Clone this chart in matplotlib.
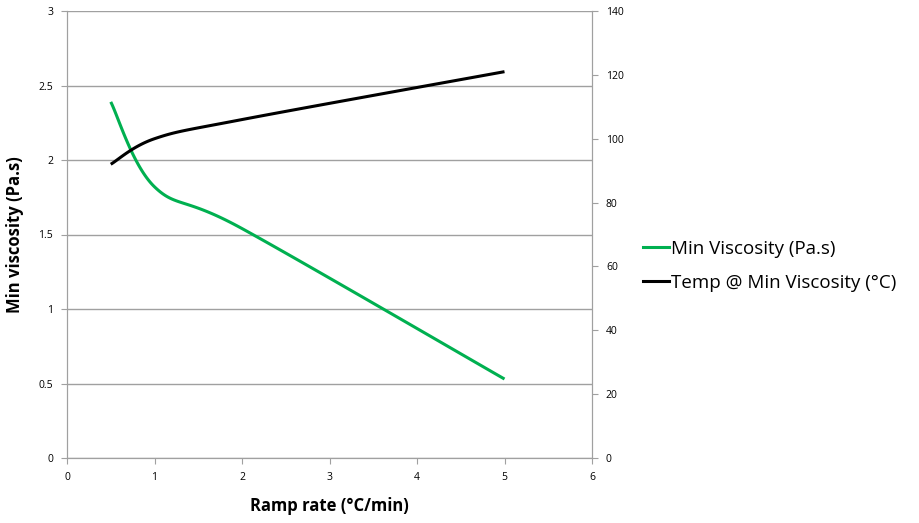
import numpy as np
import matplotlib
matplotlib.use("Agg")
import matplotlib.pyplot as plt
from matplotlib.lines import Line2D

ramp_rate = [0.5, 1, 2, 5]
min_visc = [2.39, 1.82, 1.54, 0.53]
temp_min_visc = [92, 100, 106, 121]

GREEN = "#00b050"
GRID = "#a0a0a0"

plt.rcParams["font.family"] = ["Open Sans", "DejaVu Sans"]


def smooth(xs, ys, n=40):
    # Excel-style smoothed line: cubic Bezier with Catmull-Rom control points
    xs = np.asarray(xs, float)
    ys = np.asarray(ys, float)
    px = np.concatenate([[xs[0]], xs, [xs[-1]]])
    py = np.concatenate([[ys[0]], ys, [ys[-1]]])
    out_x, out_y = [], []
    t = np.linspace(0, 1, n)
    for i in range(1, len(px) - 2):
        p0 = np.array([px[i], py[i]])
        p3 = np.array([px[i + 1], py[i + 1]])
        c1 = p0 + (np.array([px[i + 1], py[i + 1]]) - np.array([px[i - 1], py[i - 1]])) / 6
        c2 = p3 - (np.array([px[i + 2], py[i + 2]]) - np.array([px[i], py[i]])) / 6
        b = ((1 - t) ** 3)[:, None] * p0 + (3 * (1 - t) ** 2 * t)[:, None] * c1 \
            + (3 * (1 - t) * t ** 2)[:, None] * c2 + (t ** 3)[:, None] * p3
        out_x.extend(b[:, 0])
        out_y.extend(b[:, 1])
    return out_x, out_y


fig = plt.figure(figsize=(9.19, 5.23), dpi=100)
ax = fig.add_axes([67 / 919, 65 / 523, 525 / 919, 447 / 523])
ax2 = ax.twinx()

sx, sy = smooth(ramp_rate, min_visc)
ax.plot(sx, sy, color=GREEN, lw=2.2, solid_capstyle="butt")
tx, ty = smooth(ramp_rate, temp_min_visc)
ax2.plot(tx, ty, color="black", lw=2.2, solid_capstyle="butt")

ax.set_xlim(0, 6)
ax.set_ylim(0, 3)
ax2.set_ylim(0, 140)
ax.set_xticks(range(0, 7))
ax.set_yticks(np.arange(0, 3.01, 0.5))
ax.set_yticklabels(["0", "0.5", "1", "1.5", "2", "2.5", "3"])
ax2.set_yticks(range(0, 141, 20))

ax.yaxis.grid(True, color=GRID, lw=1)
ax.set_axisbelow(True)

for a in (ax, ax2):
    a.spines["top"].set_visible(False)
    for s in ("left", "right", "bottom"):
        a.spines[s].set_color(GRID)
    a.tick_params(labelsize=7.5, length=4, color=GRID, pad=6)

ax.set_xlabel("Ramp rate (°C/min)", fontsize=12, fontweight="bold", labelpad=10)
ax.set_ylabel("Min viscosity (Pa.s)", fontsize=12, fontweight="bold", labelpad=10)

handles = [Line2D([], [], color=GREEN, lw=2.2),
           Line2D([], [], color="black", lw=2.2)]
fig.legend(handles, ["Min Viscosity (Pa.s)", "Temp @ Min Viscosity (°C)"],
           loc="center left", bbox_to_anchor=(635 / 919, 1 - 266 / 523),
           frameon=False, fontsize=13.5, handlelength=1.4, handletextpad=0.1,
           labelspacing=0.85, borderaxespad=0)

fig.savefig("out.png")
